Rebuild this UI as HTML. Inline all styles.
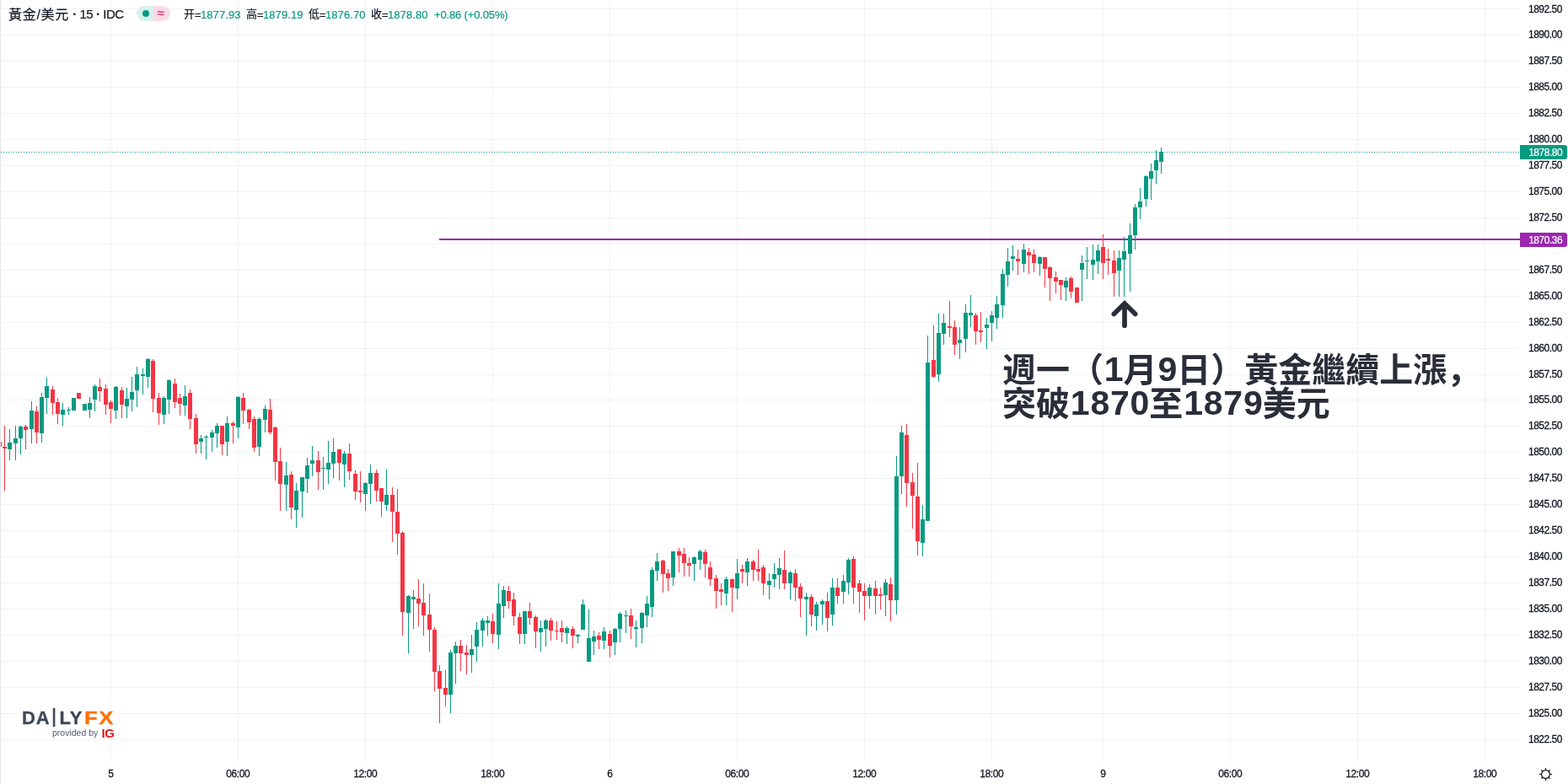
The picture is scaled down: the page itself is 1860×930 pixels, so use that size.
<!DOCTYPE html>
<html lang="zh-Hant"><head><meta charset="utf-8"><title>黃金/美元 15 IDC</title>
<style>
html,body{margin:0;padding:0;background:#fff;}
body{width:1860px;height:930px;position:relative;overflow:hidden;font-family:"Liberation Sans","Noto Sans CJK TC",sans-serif;color:#131722;}
#chart{position:absolute;left:0;top:0;}
.t{position:absolute;white-space:nowrap;line-height:1;}
.pl{font-size:12px;letter-spacing:-0.5px;left:1813px;-webkit-text-stroke-width:0.3px;}
.tl{font-size:12px;letter-spacing:-0.4px;transform:translateX(-50%);top:912px;-webkit-text-stroke-width:0.3px;}
.tag{-webkit-text-stroke-width:0.2px;position:absolute;left:1803px;width:56px;height:17px;border-radius:0 3px 3px 0;color:#fff;font-size:12px;letter-spacing:-0.5px;line-height:18px;box-sizing:border-box;padding-left:10.2px;white-space:nowrap;}
.hd{top:11px;font-size:13px;-webkit-text-stroke-width:0.2px;}
.g{color:#089981;letter-spacing:0.1px;}
.c{position:relative;top:-1px;}
.e{letter-spacing:-0.7px;}
.lg{font-size:22px;font-weight:bold;letter-spacing:0.9px;color:#3e4859;-webkit-text-stroke:0.3px currentColor;}
.d{position:relative;top:-0.4px;font-family:"Liberation Sans",sans-serif;font-size:41px;letter-spacing:0.78px;margin-left:0.8px;margin-right:-0.8px;}
.cm{font-family:"Liberation Sans","Noto Sans CJK SC",sans-serif;}
.note{left:1189px;font-family:"Liberation Sans","Noto Sans CJK SC",sans-serif;font-weight:bold;font-size:40px;color:#2a2e39;line-height:40px;}
</style></head><body>

<svg id="chart" width="1860" height="930" viewBox="0 0 1860 930" shape-rendering="crispEdges"><rect x="0" y="10" width="1803" height="1" fill="#2a2e39" fill-opacity="0.06"/>
<rect x="0" y="41" width="1803" height="1" fill="#2a2e39" fill-opacity="0.06"/>
<rect x="0" y="72" width="1803" height="1" fill="#2a2e39" fill-opacity="0.06"/>
<rect x="0" y="103" width="1803" height="1" fill="#2a2e39" fill-opacity="0.06"/>
<rect x="0" y="134" width="1803" height="1" fill="#2a2e39" fill-opacity="0.06"/>
<rect x="0" y="165" width="1803" height="1" fill="#2a2e39" fill-opacity="0.06"/>
<rect x="0" y="196" width="1803" height="1" fill="#2a2e39" fill-opacity="0.06"/>
<rect x="0" y="227" width="1803" height="1" fill="#2a2e39" fill-opacity="0.06"/>
<rect x="0" y="258" width="1803" height="1" fill="#2a2e39" fill-opacity="0.06"/>
<rect x="0" y="289" width="1803" height="1" fill="#2a2e39" fill-opacity="0.06"/>
<rect x="0" y="320" width="1803" height="1" fill="#2a2e39" fill-opacity="0.06"/>
<rect x="0" y="351" width="1803" height="1" fill="#2a2e39" fill-opacity="0.06"/>
<rect x="0" y="382" width="1803" height="1" fill="#2a2e39" fill-opacity="0.06"/>
<rect x="0" y="413" width="1803" height="1" fill="#2a2e39" fill-opacity="0.06"/>
<rect x="0" y="444" width="1803" height="1" fill="#2a2e39" fill-opacity="0.06"/>
<rect x="0" y="474" width="1803" height="1" fill="#2a2e39" fill-opacity="0.06"/>
<rect x="0" y="505" width="1803" height="1" fill="#2a2e39" fill-opacity="0.06"/>
<rect x="0" y="536" width="1803" height="1" fill="#2a2e39" fill-opacity="0.06"/>
<rect x="0" y="567" width="1803" height="1" fill="#2a2e39" fill-opacity="0.06"/>
<rect x="0" y="598" width="1803" height="1" fill="#2a2e39" fill-opacity="0.06"/>
<rect x="0" y="629" width="1803" height="1" fill="#2a2e39" fill-opacity="0.06"/>
<rect x="0" y="660" width="1803" height="1" fill="#2a2e39" fill-opacity="0.06"/>
<rect x="0" y="691" width="1803" height="1" fill="#2a2e39" fill-opacity="0.06"/>
<rect x="0" y="722" width="1803" height="1" fill="#2a2e39" fill-opacity="0.06"/>
<rect x="0" y="753" width="1803" height="1" fill="#2a2e39" fill-opacity="0.06"/>
<rect x="0" y="784" width="1803" height="1" fill="#2a2e39" fill-opacity="0.06"/>
<rect x="0" y="815" width="1803" height="1" fill="#2a2e39" fill-opacity="0.06"/>
<rect x="0" y="846" width="1803" height="1" fill="#2a2e39" fill-opacity="0.06"/>
<rect x="0" y="877" width="1803" height="1" fill="#2a2e39" fill-opacity="0.06"/>
<rect x="131" y="0" width="1" height="904" fill="#2a2e39" fill-opacity="0.06"/>
<rect x="282" y="0" width="1" height="904" fill="#2a2e39" fill-opacity="0.06"/>
<rect x="433" y="0" width="1" height="904" fill="#2a2e39" fill-opacity="0.06"/>
<rect x="584" y="0" width="1" height="904" fill="#2a2e39" fill-opacity="0.06"/>
<rect x="723" y="0" width="1" height="904" fill="#2a2e39" fill-opacity="0.06"/>
<rect x="874" y="0" width="1" height="904" fill="#2a2e39" fill-opacity="0.06"/>
<rect x="1025" y="0" width="1" height="904" fill="#2a2e39" fill-opacity="0.06"/>
<rect x="1176" y="0" width="1" height="904" fill="#2a2e39" fill-opacity="0.06"/>
<rect x="1308" y="0" width="1" height="904" fill="#2a2e39" fill-opacity="0.06"/>
<rect x="1459" y="0" width="1" height="904" fill="#2a2e39" fill-opacity="0.06"/>
<rect x="1610" y="0" width="1" height="904" fill="#2a2e39" fill-opacity="0.06"/>
<rect x="1761" y="0" width="1" height="904" fill="#2a2e39" fill-opacity="0.06"/>
<line x1="1" y1="180.5" x2="1803" y2="180.5" stroke="#089981" stroke-width="1" stroke-dasharray="1 2"/>
<rect x="521" y="283" width="1282" height="2" fill="#9c27b0"/>
<rect x="-1" y="524" width="1" height="6" fill="#f23645"/>
<rect x="5" y="505" width="1" height="77" fill="#f23645"/>
<rect x="11" y="509" width="1" height="37" fill="#089981"/>
<rect x="18" y="505" width="1" height="41" fill="#089981"/>
<rect x="24" y="505" width="1" height="34" fill="#089981"/>
<rect x="30" y="504" width="1" height="29" fill="#f23645"/>
<rect x="37" y="476" width="1" height="50" fill="#089981"/>
<rect x="43" y="482" width="1" height="44" fill="#f23645"/>
<rect x="49" y="466" width="1" height="59" fill="#089981"/>
<rect x="55" y="448" width="1" height="43" fill="#089981"/>
<rect x="62" y="458" width="1" height="34" fill="#f23645"/>
<rect x="68" y="472" width="1" height="31" fill="#f23645"/>
<rect x="74" y="478" width="1" height="27" fill="#089981"/>
<rect x="81" y="483" width="1" height="9" fill="#089981"/>
<rect x="87" y="472" width="1" height="15" fill="#089981"/>
<rect x="93" y="466" width="1" height="7" fill="#f23645"/>
<rect x="100" y="479" width="1" height="8" fill="#089981"/>
<rect x="106" y="471" width="1" height="25" fill="#089981"/>
<rect x="112" y="456" width="1" height="32" fill="#089981"/>
<rect x="118" y="449" width="1" height="27" fill="#f23645"/>
<rect x="125" y="456" width="1" height="36" fill="#f23645"/>
<rect x="131" y="475" width="1" height="27" fill="#f23645"/>
<rect x="137" y="458" width="1" height="39" fill="#089981"/>
<rect x="144" y="459" width="1" height="37" fill="#f23645"/>
<rect x="150" y="460" width="1" height="36" fill="#089981"/>
<rect x="156" y="447" width="1" height="41" fill="#089981"/>
<rect x="162" y="435" width="1" height="48" fill="#089981"/>
<rect x="169" y="437" width="1" height="31" fill="#089981"/>
<rect x="175" y="425" width="1" height="35" fill="#089981"/>
<rect x="181" y="426" width="1" height="63" fill="#f23645"/>
<rect x="188" y="466" width="1" height="38" fill="#f23645"/>
<rect x="194" y="470" width="1" height="33" fill="#089981"/>
<rect x="200" y="450" width="1" height="41" fill="#089981"/>
<rect x="207" y="449" width="1" height="35" fill="#f23645"/>
<rect x="213" y="467" width="1" height="26" fill="#f23645"/>
<rect x="219" y="457" width="1" height="36" fill="#089981"/>
<rect x="225" y="462" width="1" height="47" fill="#f23645"/>
<rect x="232" y="491" width="1" height="47" fill="#f23645"/>
<rect x="238" y="516" width="1" height="22" fill="#089981"/>
<rect x="244" y="516" width="1" height="29" fill="#089981"/>
<rect x="251" y="510" width="1" height="26" fill="#089981"/>
<rect x="257" y="502" width="1" height="29" fill="#089981"/>
<rect x="263" y="505" width="1" height="35" fill="#f23645"/>
<rect x="269" y="494" width="1" height="47" fill="#089981"/>
<rect x="276" y="500" width="1" height="26" fill="#f23645"/>
<rect x="282" y="470" width="1" height="50" fill="#089981"/>
<rect x="288" y="466" width="1" height="37" fill="#f23645"/>
<rect x="295" y="485" width="1" height="24" fill="#f23645"/>
<rect x="301" y="494" width="1" height="42" fill="#f23645"/>
<rect x="307" y="495" width="1" height="46" fill="#089981"/>
<rect x="314" y="481" width="1" height="32" fill="#089981"/>
<rect x="320" y="473" width="1" height="42" fill="#f23645"/>
<rect x="326" y="506" width="1" height="64" fill="#f23645"/>
<rect x="332" y="531" width="1" height="75" fill="#f23645"/>
<rect x="339" y="548" width="1" height="58" fill="#089981"/>
<rect x="345" y="559" width="1" height="57" fill="#f23645"/>
<rect x="351" y="573" width="1" height="53" fill="#089981"/>
<rect x="358" y="566" width="1" height="48" fill="#089981"/>
<rect x="364" y="543" width="1" height="42" fill="#089981"/>
<rect x="370" y="529" width="1" height="36" fill="#089981"/>
<rect x="377" y="535" width="1" height="46" fill="#f23645"/>
<rect x="383" y="542" width="1" height="39" fill="#089981"/>
<rect x="389" y="523" width="1" height="51" fill="#089981"/>
<rect x="395" y="520" width="1" height="47" fill="#089981"/>
<rect x="402" y="533" width="1" height="37" fill="#f23645"/>
<rect x="408" y="535" width="1" height="43" fill="#089981"/>
<rect x="414" y="526" width="1" height="43" fill="#f23645"/>
<rect x="421" y="558" width="1" height="35" fill="#f23645"/>
<rect x="427" y="559" width="1" height="37" fill="#f23645"/>
<rect x="433" y="572" width="1" height="34" fill="#089981"/>
<rect x="439" y="551" width="1" height="47" fill="#089981"/>
<rect x="446" y="557" width="1" height="38" fill="#f23645"/>
<rect x="452" y="579" width="1" height="34" fill="#f23645"/>
<rect x="458" y="557" width="1" height="49" fill="#089981"/>
<rect x="465" y="578" width="1" height="65" fill="#f23645"/>
<rect x="471" y="580" width="1" height="78" fill="#f23645"/>
<rect x="477" y="630" width="1" height="124" fill="#f23645"/>
<rect x="484" y="706" width="1" height="69" fill="#089981"/>
<rect x="490" y="700" width="1" height="46" fill="#089981"/>
<rect x="496" y="687" width="1" height="56" fill="#f23645"/>
<rect x="502" y="692" width="1" height="62" fill="#f23645"/>
<rect x="509" y="704" width="1" height="69" fill="#f23645"/>
<rect x="515" y="744" width="1" height="76" fill="#f23645"/>
<rect x="521" y="789" width="1" height="69" fill="#f23645"/>
<rect x="528" y="795" width="1" height="43" fill="#f23645"/>
<rect x="534" y="771" width="1" height="75" fill="#089981"/>
<rect x="540" y="761" width="1" height="50" fill="#089981"/>
<rect x="546" y="759" width="1" height="37" fill="#f23645"/>
<rect x="553" y="765" width="1" height="35" fill="#f23645"/>
<rect x="559" y="753" width="1" height="45" fill="#089981"/>
<rect x="565" y="738" width="1" height="47" fill="#089981"/>
<rect x="572" y="733" width="1" height="34" fill="#089981"/>
<rect x="578" y="731" width="1" height="23" fill="#089981"/>
<rect x="584" y="728" width="1" height="35" fill="#f23645"/>
<rect x="591" y="692" width="1" height="78" fill="#089981"/>
<rect x="597" y="695" width="1" height="38" fill="#089981"/>
<rect x="603" y="695" width="1" height="27" fill="#f23645"/>
<rect x="609" y="703" width="1" height="39" fill="#f23645"/>
<rect x="616" y="727" width="1" height="37" fill="#f23645"/>
<rect x="622" y="725" width="1" height="39" fill="#089981"/>
<rect x="628" y="715" width="1" height="26" fill="#f23645"/>
<rect x="635" y="730" width="1" height="39" fill="#f23645"/>
<rect x="641" y="736" width="1" height="37" fill="#089981"/>
<rect x="647" y="734" width="1" height="33" fill="#089981"/>
<rect x="653" y="733" width="1" height="27" fill="#f23645"/>
<rect x="660" y="737" width="1" height="22" fill="#f23645"/>
<rect x="666" y="736" width="1" height="26" fill="#f23645"/>
<rect x="672" y="743" width="1" height="21" fill="#089981"/>
<rect x="679" y="743" width="1" height="26" fill="#f23645"/>
<rect x="685" y="752" width="1" height="11" fill="#089981"/>
<rect x="691" y="711" width="1" height="36" fill="#089981"/>
<rect x="698" y="723" width="1" height="62" fill="#089981"/>
<rect x="704" y="748" width="1" height="29" fill="#089981"/>
<rect x="710" y="750" width="1" height="20" fill="#f23645"/>
<rect x="716" y="744" width="1" height="26" fill="#089981"/>
<rect x="723" y="748" width="1" height="32" fill="#f23645"/>
<rect x="729" y="745" width="1" height="32" fill="#089981"/>
<rect x="735" y="726" width="1" height="36" fill="#089981"/>
<rect x="742" y="724" width="1" height="27" fill="#089981"/>
<rect x="748" y="722" width="1" height="36" fill="#f23645"/>
<rect x="754" y="736" width="1" height="32" fill="#089981"/>
<rect x="761" y="726" width="1" height="37" fill="#089981"/>
<rect x="767" y="707" width="1" height="37" fill="#089981"/>
<rect x="773" y="673" width="1" height="59" fill="#089981"/>
<rect x="779" y="656" width="1" height="33" fill="#089981"/>
<rect x="786" y="664" width="1" height="39" fill="#f23645"/>
<rect x="792" y="675" width="1" height="26" fill="#f23645"/>
<rect x="798" y="654" width="1" height="41" fill="#089981"/>
<rect x="805" y="650" width="1" height="29" fill="#f23645"/>
<rect x="811" y="650" width="1" height="34" fill="#f23645"/>
<rect x="817" y="661" width="1" height="23" fill="#f23645"/>
<rect x="823" y="660" width="1" height="29" fill="#089981"/>
<rect x="830" y="652" width="1" height="24" fill="#089981"/>
<rect x="836" y="652" width="1" height="33" fill="#f23645"/>
<rect x="842" y="666" width="1" height="29" fill="#f23645"/>
<rect x="849" y="682" width="1" height="40" fill="#f23645"/>
<rect x="855" y="692" width="1" height="26" fill="#f23645"/>
<rect x="861" y="684" width="1" height="34" fill="#089981"/>
<rect x="868" y="686" width="1" height="40" fill="#f23645"/>
<rect x="874" y="663" width="1" height="48" fill="#089981"/>
<rect x="880" y="670" width="1" height="22" fill="#f23645"/>
<rect x="886" y="662" width="1" height="33" fill="#089981"/>
<rect x="893" y="664" width="1" height="25" fill="#f23645"/>
<rect x="899" y="652" width="1" height="37" fill="#f23645"/>
<rect x="905" y="670" width="1" height="36" fill="#f23645"/>
<rect x="912" y="680" width="1" height="31" fill="#089981"/>
<rect x="918" y="668" width="1" height="29" fill="#089981"/>
<rect x="924" y="662" width="1" height="37" fill="#089981"/>
<rect x="930" y="653" width="1" height="46" fill="#f23645"/>
<rect x="937" y="677" width="1" height="34" fill="#089981"/>
<rect x="943" y="675" width="1" height="38" fill="#f23645"/>
<rect x="949" y="692" width="1" height="40" fill="#f23645"/>
<rect x="956" y="703" width="1" height="51" fill="#089981"/>
<rect x="962" y="705" width="1" height="38" fill="#f23645"/>
<rect x="968" y="714" width="1" height="34" fill="#089981"/>
<rect x="975" y="711" width="1" height="30" fill="#089981"/>
<rect x="981" y="703" width="1" height="46" fill="#f23645"/>
<rect x="987" y="686" width="1" height="56" fill="#089981"/>
<rect x="993" y="686" width="1" height="30" fill="#f23645"/>
<rect x="1000" y="682" width="1" height="34" fill="#089981"/>
<rect x="1006" y="662" width="1" height="43" fill="#089981"/>
<rect x="1012" y="660" width="1" height="56" fill="#f23645"/>
<rect x="1019" y="688" width="1" height="39" fill="#f23645"/>
<rect x="1025" y="692" width="1" height="44" fill="#f23645"/>
<rect x="1031" y="693" width="1" height="29" fill="#089981"/>
<rect x="1038" y="689" width="1" height="40" fill="#f23645"/>
<rect x="1044" y="697" width="1" height="26" fill="#f23645"/>
<rect x="1050" y="687" width="1" height="44" fill="#089981"/>
<rect x="1056" y="685" width="1" height="52" fill="#f23645"/>
<rect x="1063" y="541" width="1" height="188" fill="#089981"/>
<rect x="1069" y="505" width="1" height="81" fill="#089981"/>
<rect x="1075" y="503" width="1" height="98" fill="#f23645"/>
<rect x="1082" y="561" width="1" height="66" fill="#f23645"/>
<rect x="1088" y="549" width="1" height="110" fill="#f23645"/>
<rect x="1094" y="599" width="1" height="61" fill="#089981"/>
<rect x="1100" y="398" width="1" height="220" fill="#089981"/>
<rect x="1107" y="386" width="1" height="62" fill="#f23645"/>
<rect x="1113" y="372" width="1" height="81" fill="#089981"/>
<rect x="1119" y="372" width="1" height="37" fill="#089981"/>
<rect x="1126" y="357" width="1" height="43" fill="#f23645"/>
<rect x="1132" y="380" width="1" height="41" fill="#f23645"/>
<rect x="1138" y="388" width="1" height="38" fill="#089981"/>
<rect x="1145" y="361" width="1" height="57" fill="#089981"/>
<rect x="1151" y="350" width="1" height="38" fill="#089981"/>
<rect x="1157" y="371" width="1" height="38" fill="#f23645"/>
<rect x="1163" y="370" width="1" height="36" fill="#f23645"/>
<rect x="1170" y="377" width="1" height="37" fill="#089981"/>
<rect x="1176" y="369" width="1" height="36" fill="#089981"/>
<rect x="1182" y="351" width="1" height="39" fill="#089981"/>
<rect x="1189" y="319" width="1" height="58" fill="#089981"/>
<rect x="1195" y="294" width="1" height="46" fill="#089981"/>
<rect x="1201" y="291" width="1" height="30" fill="#089981"/>
<rect x="1207" y="296" width="1" height="30" fill="#f23645"/>
<rect x="1214" y="289" width="1" height="34" fill="#089981"/>
<rect x="1220" y="294" width="1" height="31" fill="#f23645"/>
<rect x="1226" y="296" width="1" height="27" fill="#f23645"/>
<rect x="1233" y="304" width="1" height="23" fill="#089981"/>
<rect x="1239" y="305" width="1" height="36" fill="#f23645"/>
<rect x="1245" y="316" width="1" height="41" fill="#f23645"/>
<rect x="1252" y="322" width="1" height="26" fill="#f23645"/>
<rect x="1258" y="332" width="1" height="24" fill="#f23645"/>
<rect x="1264" y="329" width="1" height="28" fill="#089981"/>
<rect x="1270" y="328" width="1" height="26" fill="#f23645"/>
<rect x="1277" y="341" width="1" height="18" fill="#f23645"/>
<rect x="1283" y="303" width="1" height="54" fill="#089981"/>
<rect x="1289" y="293" width="1" height="38" fill="#089981"/>
<rect x="1296" y="290" width="1" height="42" fill="#089981"/>
<rect x="1302" y="290" width="1" height="35" fill="#089981"/>
<rect x="1308" y="278" width="1" height="53" fill="#f23645"/>
<rect x="1314" y="295" width="1" height="31" fill="#f23645"/>
<rect x="1321" y="297" width="1" height="55" fill="#f23645"/>
<rect x="1327" y="297" width="1" height="55" fill="#089981"/>
<rect x="1333" y="281" width="1" height="71" fill="#089981"/>
<rect x="1340" y="265" width="1" height="81" fill="#089981"/>
<rect x="1346" y="242" width="1" height="54" fill="#089981"/>
<rect x="1352" y="223" width="1" height="37" fill="#089981"/>
<rect x="1359" y="208" width="1" height="37" fill="#089981"/>
<rect x="1365" y="194" width="1" height="43" fill="#089981"/>
<rect x="1371" y="178" width="1" height="40" fill="#089981"/>
<rect x="1377" y="175" width="1" height="31" fill="#089981"/>
<rect x="-3" y="524" width="5" height="6" fill="#f23645"/>
<rect x="3" y="530" width="5" height="2" fill="#f23645"/>
<rect x="9" y="525" width="5" height="8" fill="#089981"/>
<rect x="16" y="520" width="5" height="6" fill="#089981"/>
<rect x="22" y="506" width="5" height="14" fill="#089981"/>
<rect x="28" y="506" width="5" height="4" fill="#f23645"/>
<rect x="35" y="487" width="5" height="22" fill="#089981"/>
<rect x="41" y="488" width="5" height="25" fill="#f23645"/>
<rect x="47" y="471" width="5" height="43" fill="#089981"/>
<rect x="53" y="458" width="5" height="14" fill="#089981"/>
<rect x="60" y="462" width="5" height="16" fill="#f23645"/>
<rect x="66" y="477" width="5" height="14" fill="#f23645"/>
<rect x="72" y="486" width="5" height="6" fill="#089981"/>
<rect x="79" y="486" width="5" height="1" fill="#089981"/>
<rect x="85" y="472" width="5" height="15" fill="#089981"/>
<rect x="91" y="466" width="5" height="7" fill="#f23645"/>
<rect x="98" y="479" width="5" height="8" fill="#089981"/>
<rect x="104" y="478" width="5" height="8" fill="#089981"/>
<rect x="110" y="458" width="5" height="16" fill="#089981"/>
<rect x="116" y="459" width="5" height="5" fill="#f23645"/>
<rect x="123" y="461" width="5" height="19" fill="#f23645"/>
<rect x="129" y="477" width="5" height="8" fill="#f23645"/>
<rect x="135" y="459" width="5" height="28" fill="#089981"/>
<rect x="142" y="463" width="5" height="17" fill="#f23645"/>
<rect x="148" y="473" width="5" height="9" fill="#089981"/>
<rect x="154" y="465" width="5" height="9" fill="#089981"/>
<rect x="160" y="444" width="5" height="19" fill="#089981"/>
<rect x="167" y="444" width="5" height="2" fill="#089981"/>
<rect x="173" y="426" width="5" height="21" fill="#089981"/>
<rect x="179" y="428" width="5" height="45" fill="#f23645"/>
<rect x="186" y="472" width="5" height="18" fill="#f23645"/>
<rect x="192" y="472" width="5" height="20" fill="#089981"/>
<rect x="198" y="451" width="5" height="23" fill="#089981"/>
<rect x="205" y="455" width="5" height="22" fill="#f23645"/>
<rect x="211" y="472" width="5" height="7" fill="#f23645"/>
<rect x="217" y="470" width="5" height="11" fill="#089981"/>
<rect x="223" y="466" width="5" height="31" fill="#f23645"/>
<rect x="230" y="496" width="5" height="31" fill="#f23645"/>
<rect x="236" y="520" width="5" height="4" fill="#089981"/>
<rect x="242" y="518" width="5" height="1" fill="#089981"/>
<rect x="249" y="513" width="5" height="6" fill="#089981"/>
<rect x="255" y="505" width="5" height="9" fill="#089981"/>
<rect x="261" y="505" width="5" height="22" fill="#f23645"/>
<rect x="267" y="502" width="5" height="22" fill="#089981"/>
<rect x="274" y="502" width="5" height="3" fill="#f23645"/>
<rect x="280" y="471" width="5" height="36" fill="#089981"/>
<rect x="286" y="472" width="5" height="15" fill="#f23645"/>
<rect x="293" y="486" width="5" height="15" fill="#f23645"/>
<rect x="299" y="497" width="5" height="34" fill="#f23645"/>
<rect x="305" y="497" width="5" height="33" fill="#089981"/>
<rect x="312" y="485" width="5" height="13" fill="#089981"/>
<rect x="318" y="486" width="5" height="27" fill="#f23645"/>
<rect x="324" y="507" width="5" height="41" fill="#f23645"/>
<rect x="330" y="547" width="5" height="27" fill="#f23645"/>
<rect x="337" y="564" width="5" height="11" fill="#089981"/>
<rect x="343" y="563" width="5" height="39" fill="#f23645"/>
<rect x="349" y="582" width="5" height="23" fill="#089981"/>
<rect x="356" y="566" width="5" height="17" fill="#089981"/>
<rect x="362" y="552" width="5" height="16" fill="#089981"/>
<rect x="368" y="546" width="5" height="4" fill="#089981"/>
<rect x="375" y="546" width="5" height="14" fill="#f23645"/>
<rect x="381" y="555" width="5" height="1" fill="#089981"/>
<rect x="387" y="549" width="5" height="8" fill="#089981"/>
<rect x="393" y="536" width="5" height="14" fill="#089981"/>
<rect x="400" y="533" width="5" height="16" fill="#f23645"/>
<rect x="406" y="538" width="5" height="13" fill="#089981"/>
<rect x="412" y="538" width="5" height="21" fill="#f23645"/>
<rect x="419" y="562" width="5" height="21" fill="#f23645"/>
<rect x="425" y="582" width="5" height="2" fill="#f23645"/>
<rect x="431" y="573" width="5" height="13" fill="#089981"/>
<rect x="437" y="561" width="5" height="13" fill="#089981"/>
<rect x="444" y="561" width="5" height="21" fill="#f23645"/>
<rect x="450" y="579" width="5" height="16" fill="#f23645"/>
<rect x="456" y="587" width="5" height="12" fill="#089981"/>
<rect x="463" y="587" width="5" height="20" fill="#f23645"/>
<rect x="469" y="607" width="5" height="26" fill="#f23645"/>
<rect x="475" y="632" width="5" height="94" fill="#f23645"/>
<rect x="482" y="707" width="5" height="20" fill="#089981"/>
<rect x="488" y="708" width="5" height="3" fill="#089981"/>
<rect x="494" y="710" width="5" height="6" fill="#f23645"/>
<rect x="500" y="715" width="5" height="15" fill="#f23645"/>
<rect x="507" y="729" width="5" height="18" fill="#f23645"/>
<rect x="513" y="747" width="5" height="50" fill="#f23645"/>
<rect x="519" y="796" width="5" height="21" fill="#f23645"/>
<rect x="526" y="816" width="5" height="8" fill="#f23645"/>
<rect x="532" y="774" width="5" height="50" fill="#089981"/>
<rect x="538" y="766" width="5" height="9" fill="#089981"/>
<rect x="544" y="766" width="5" height="9" fill="#f23645"/>
<rect x="551" y="774" width="5" height="3" fill="#f23645"/>
<rect x="557" y="770" width="5" height="7" fill="#089981"/>
<rect x="563" y="747" width="5" height="20" fill="#089981"/>
<rect x="570" y="736" width="5" height="12" fill="#089981"/>
<rect x="576" y="736" width="5" height="3" fill="#089981"/>
<rect x="582" y="737" width="5" height="15" fill="#f23645"/>
<rect x="589" y="716" width="5" height="37" fill="#089981"/>
<rect x="595" y="700" width="5" height="19" fill="#089981"/>
<rect x="601" y="701" width="5" height="12" fill="#f23645"/>
<rect x="607" y="711" width="5" height="20" fill="#f23645"/>
<rect x="614" y="732" width="5" height="20" fill="#f23645"/>
<rect x="620" y="725" width="5" height="27" fill="#089981"/>
<rect x="626" y="725" width="5" height="8" fill="#f23645"/>
<rect x="633" y="732" width="5" height="17" fill="#f23645"/>
<rect x="639" y="745" width="5" height="5" fill="#089981"/>
<rect x="645" y="736" width="5" height="10" fill="#089981"/>
<rect x="651" y="736" width="5" height="12" fill="#f23645"/>
<rect x="658" y="748" width="5" height="1" fill="#f23645"/>
<rect x="664" y="745" width="5" height="5" fill="#f23645"/>
<rect x="670" y="745" width="5" height="6" fill="#089981"/>
<rect x="677" y="746" width="5" height="8" fill="#f23645"/>
<rect x="683" y="753" width="5" height="2" fill="#089981"/>
<rect x="689" y="717" width="5" height="30" fill="#089981"/>
<rect x="696" y="757" width="5" height="28" fill="#089981"/>
<rect x="702" y="755" width="5" height="6" fill="#089981"/>
<rect x="708" y="754" width="5" height="5" fill="#f23645"/>
<rect x="714" y="749" width="5" height="11" fill="#089981"/>
<rect x="721" y="752" width="5" height="14" fill="#f23645"/>
<rect x="727" y="746" width="5" height="16" fill="#089981"/>
<rect x="733" y="728" width="5" height="18" fill="#089981"/>
<rect x="740" y="730" width="5" height="1" fill="#089981"/>
<rect x="746" y="730" width="5" height="13" fill="#f23645"/>
<rect x="752" y="744" width="5" height="2" fill="#089981"/>
<rect x="759" y="727" width="5" height="18" fill="#089981"/>
<rect x="765" y="716" width="5" height="14" fill="#089981"/>
<rect x="771" y="676" width="5" height="44" fill="#089981"/>
<rect x="777" y="666" width="5" height="11" fill="#089981"/>
<rect x="784" y="665" width="5" height="16" fill="#f23645"/>
<rect x="790" y="680" width="5" height="6" fill="#f23645"/>
<rect x="796" y="654" width="5" height="31" fill="#089981"/>
<rect x="803" y="654" width="5" height="5" fill="#f23645"/>
<rect x="809" y="657" width="5" height="11" fill="#f23645"/>
<rect x="815" y="668" width="5" height="3" fill="#f23645"/>
<rect x="821" y="661" width="5" height="8" fill="#089981"/>
<rect x="828" y="654" width="5" height="10" fill="#089981"/>
<rect x="834" y="655" width="5" height="14" fill="#f23645"/>
<rect x="840" y="673" width="5" height="14" fill="#f23645"/>
<rect x="847" y="686" width="5" height="15" fill="#f23645"/>
<rect x="853" y="699" width="5" height="3" fill="#f23645"/>
<rect x="859" y="687" width="5" height="17" fill="#089981"/>
<rect x="866" y="687" width="5" height="10" fill="#f23645"/>
<rect x="872" y="680" width="5" height="18" fill="#089981"/>
<rect x="878" y="675" width="5" height="3" fill="#f23645"/>
<rect x="884" y="666" width="5" height="13" fill="#089981"/>
<rect x="891" y="666" width="5" height="10" fill="#f23645"/>
<rect x="897" y="675" width="5" height="3" fill="#f23645"/>
<rect x="903" y="673" width="5" height="19" fill="#f23645"/>
<rect x="910" y="689" width="5" height="5" fill="#089981"/>
<rect x="916" y="681" width="5" height="6" fill="#089981"/>
<rect x="922" y="674" width="5" height="8" fill="#089981"/>
<rect x="928" y="676" width="5" height="16" fill="#f23645"/>
<rect x="935" y="679" width="5" height="13" fill="#089981"/>
<rect x="941" y="680" width="5" height="17" fill="#f23645"/>
<rect x="947" y="696" width="5" height="14" fill="#f23645"/>
<rect x="954" y="708" width="5" height="3" fill="#089981"/>
<rect x="960" y="708" width="5" height="21" fill="#f23645"/>
<rect x="966" y="717" width="5" height="14" fill="#089981"/>
<rect x="973" y="713" width="5" height="4" fill="#089981"/>
<rect x="979" y="713" width="5" height="20" fill="#f23645"/>
<rect x="985" y="697" width="5" height="32" fill="#089981"/>
<rect x="991" y="697" width="5" height="10" fill="#f23645"/>
<rect x="998" y="689" width="5" height="13" fill="#089981"/>
<rect x="1004" y="664" width="5" height="27" fill="#089981"/>
<rect x="1010" y="663" width="5" height="34" fill="#f23645"/>
<rect x="1017" y="692" width="5" height="10" fill="#f23645"/>
<rect x="1023" y="701" width="5" height="6" fill="#f23645"/>
<rect x="1029" y="697" width="5" height="10" fill="#089981"/>
<rect x="1036" y="698" width="5" height="9" fill="#f23645"/>
<rect x="1042" y="705" width="5" height="2" fill="#f23645"/>
<rect x="1048" y="691" width="5" height="15" fill="#089981"/>
<rect x="1054" y="693" width="5" height="19" fill="#f23645"/>
<rect x="1061" y="565" width="5" height="147" fill="#089981"/>
<rect x="1067" y="513" width="5" height="52" fill="#089981"/>
<rect x="1073" y="516" width="5" height="57" fill="#f23645"/>
<rect x="1080" y="572" width="5" height="16" fill="#f23645"/>
<rect x="1086" y="589" width="5" height="53" fill="#f23645"/>
<rect x="1092" y="616" width="5" height="28" fill="#089981"/>
<rect x="1098" y="430" width="5" height="188" fill="#089981"/>
<rect x="1105" y="427" width="5" height="20" fill="#f23645"/>
<rect x="1111" y="395" width="5" height="49" fill="#089981"/>
<rect x="1117" y="383" width="5" height="13" fill="#089981"/>
<rect x="1124" y="387" width="5" height="2" fill="#f23645"/>
<rect x="1130" y="388" width="5" height="21" fill="#f23645"/>
<rect x="1136" y="403" width="5" height="4" fill="#089981"/>
<rect x="1143" y="371" width="5" height="31" fill="#089981"/>
<rect x="1149" y="371" width="5" height="3" fill="#089981"/>
<rect x="1155" y="374" width="5" height="19" fill="#f23645"/>
<rect x="1161" y="392" width="5" height="2" fill="#f23645"/>
<rect x="1168" y="385" width="5" height="4" fill="#089981"/>
<rect x="1174" y="374" width="5" height="9" fill="#089981"/>
<rect x="1180" y="361" width="5" height="16" fill="#089981"/>
<rect x="1187" y="325" width="5" height="37" fill="#089981"/>
<rect x="1193" y="310" width="5" height="16" fill="#089981"/>
<rect x="1199" y="304" width="5" height="3" fill="#089981"/>
<rect x="1205" y="307" width="5" height="3" fill="#f23645"/>
<rect x="1212" y="296" width="5" height="17" fill="#089981"/>
<rect x="1218" y="299" width="5" height="4" fill="#f23645"/>
<rect x="1224" y="302" width="5" height="10" fill="#f23645"/>
<rect x="1231" y="305" width="5" height="8" fill="#089981"/>
<rect x="1237" y="305" width="5" height="14" fill="#f23645"/>
<rect x="1243" y="317" width="5" height="13" fill="#f23645"/>
<rect x="1250" y="329" width="5" height="5" fill="#f23645"/>
<rect x="1256" y="332" width="5" height="6" fill="#f23645"/>
<rect x="1262" y="333" width="5" height="8" fill="#089981"/>
<rect x="1268" y="330" width="5" height="16" fill="#f23645"/>
<rect x="1275" y="341" width="5" height="18" fill="#f23645"/>
<rect x="1281" y="312" width="5" height="8" fill="#089981"/>
<rect x="1287" y="309" width="5" height="1" fill="#089981"/>
<rect x="1294" y="308" width="5" height="6" fill="#089981"/>
<rect x="1300" y="297" width="5" height="13" fill="#089981"/>
<rect x="1306" y="293" width="5" height="19" fill="#f23645"/>
<rect x="1312" y="307" width="5" height="2" fill="#f23645"/>
<rect x="1319" y="309" width="5" height="15" fill="#f23645"/>
<rect x="1325" y="306" width="5" height="15" fill="#089981"/>
<rect x="1331" y="298" width="5" height="10" fill="#089981"/>
<rect x="1338" y="279" width="5" height="22" fill="#089981"/>
<rect x="1344" y="246" width="5" height="33" fill="#089981"/>
<rect x="1350" y="239" width="5" height="7" fill="#089981"/>
<rect x="1357" y="209" width="5" height="27" fill="#089981"/>
<rect x="1363" y="203" width="5" height="9" fill="#089981"/>
<rect x="1369" y="190" width="5" height="12" fill="#089981"/>
<rect x="1375" y="180" width="5" height="12" fill="#089981"/>
<rect x="0" y="0" width="1" height="930" fill="#e0e3eb"/><rect x="1" y="0" width="2" height="1" fill="#e0e3eb" fill-opacity="0.7"/><g shape-rendering="geometricPrecision"><g fill="none" stroke="#2a2e39" stroke-width="5.7" stroke-linecap="round" stroke-linejoin="miter"><path d="M1334 386.2 V361"/><path d="M1321.3 372.6 L1334 360 L1346.7 372.6"/></g><g stroke="#131722" stroke-width="1.2" fill="none"><circle cx="1833.5" cy="918.5" r="4.9"/><line x1="1838.40" y1="918.50" x2="1841.00" y2="918.50"/><line x1="1836.96" y1="921.96" x2="1838.66" y2="923.66"/><line x1="1833.50" y1="923.40" x2="1833.50" y2="926.00"/><line x1="1830.04" y1="921.96" x2="1828.34" y2="923.66"/><line x1="1828.60" y1="918.50" x2="1826.00" y2="918.50"/><line x1="1830.04" y1="915.04" x2="1828.34" y2="913.34"/><line x1="1833.50" y1="913.60" x2="1833.50" y2="911.00"/><line x1="1836.96" y1="915.04" x2="1838.66" y2="913.34"/></g></g></svg>

<div class="t pl" style="top:5px">1892.50</div>
<div class="t pl" style="top:35px">1890.00</div>
<div class="t pl" style="top:66px">1887.50</div>
<div class="t pl" style="top:97px">1885.00</div>
<div class="t pl" style="top:128px">1882.50</div>
<div class="t pl" style="top:159px">1880.00</div>
<div class="t pl" style="top:190px">1877.50</div>
<div class="t pl" style="top:221px">1875.00</div>
<div class="t pl" style="top:252px">1872.50</div>
<div class="t pl" style="top:314px">1867.50</div>
<div class="t pl" style="top:345px">1865.00</div>
<div class="t pl" style="top:376px">1862.50</div>
<div class="t pl" style="top:407px">1860.00</div>
<div class="t pl" style="top:438px">1857.50</div>
<div class="t pl" style="top:468px">1855.00</div>
<div class="t pl" style="top:499px">1852.50</div>
<div class="t pl" style="top:530px">1850.00</div>
<div class="t pl" style="top:561px">1847.50</div>
<div class="t pl" style="top:592px">1845.00</div>
<div class="t pl" style="top:623px">1842.50</div>
<div class="t pl" style="top:654px">1840.00</div>
<div class="t pl" style="top:685px">1837.50</div>
<div class="t pl" style="top:716px">1835.00</div>
<div class="t pl" style="top:747px">1832.50</div>
<div class="t pl" style="top:778px">1830.00</div>
<div class="t pl" style="top:809px">1827.50</div>
<div class="t pl" style="top:840px">1825.00</div>
<div class="t pl" style="top:871px">1822.50</div>
<div class="t tl" style="left:131.3px">5</div>
<div class="t tl" style="left:282.3px">06:00</div>
<div class="t tl" style="left:433.3px">12:00</div>
<div class="t tl" style="left:584.3px">18:00</div>
<div class="t tl" style="left:723.3px">6</div>
<div class="t tl" style="left:874.3px">06:00</div>
<div class="t tl" style="left:1025.3px">12:00</div>
<div class="t tl" style="left:1176.3px">18:00</div>
<div class="t tl" style="left:1308.3px">9</div>
<div class="t tl" style="left:1459.3px">06:00</div>
<div class="t tl" style="left:1610.3px">12:00</div>
<div class="t tl" style="left:1761.3px">18:00</div>
<div class="tag" style="top:172px;background:#089981">1878.80</div>
<div class="tag" style="top:276px;background:#9c27b0">1870.36</div>
<div class="t" id="title" style="left:10px;top:10px;font-size:16px;-webkit-text-stroke-width:0.2px;"><span style="letter-spacing:0.7px">黃金/美元</span><span id="tl2" style="position:relative;top:-1.5px;left:0.5px;font-size:15px;letter-spacing:-0.45px"> <b>·</b> 15 <b>·</b> IDC</span></div>
<div style="position:absolute;left:162px;top:7px;width:40px;height:18px;border-radius:9px;overflow:hidden;"><div style="position:absolute;left:0;top:0;width:20px;height:18px;background:#daf0ec"></div><div style="position:absolute;left:20px;top:0;width:20px;height:18px;background:#fcdbe6"></div><div style="position:absolute;left:7px;top:5px;width:8px;height:8px;border-radius:50%;background:#089981"></div><div class="t" style="left:24.4px;top:0.5px;font-size:16px;color:#cc1257;">≈</div></div>
<div class="t hd" id="o1" style="left:218px"><span class="c">开</span><span class="e">=</span><span class="g">1877.93</span></div>
<div class="t hd" id="o2" style="left:292px"><span class="c">高</span><span class="e">=</span><span class="g">1879.19</span></div>
<div class="t hd" id="o3" style="left:366px"><span class="c">低</span><span class="e">=</span><span class="g">1876.70</span></div>
<div class="t hd" id="o4" style="left:440px"><span class="c">收</span><span class="e">=</span><span class="g">1878.80</span></div>
<div class="t hd g" id="o5" style="left:515px;letter-spacing:-0.15px">+0.86 (+0.05%)</div>
<div class="t note" id="n1" lang="zh-Hans" style="top:418.6px">週一（<span class="d">1</span>月<span class="d">9</span>日）黃金繼續上漲<span class="cm" lang="zh-Hans">，</span></div>
<div class="t note" id="n2" lang="zh-Hans" style="top:458.6px">突破<span class="d">1870</span>至<span class="d">1879</span>美元</div>
<div class="t lg" id="lg1" style="left:26px;top:840.5px;">DA</div>
<div class="t lg" id="lgi" style="left:61.2px;top:840.9px;font-weight:normal;letter-spacing:0;-webkit-text-stroke:0;transform:scale(1.25,1.4);transform-origin:50% 50%;">I</div>
<div class="t lg" id="lg1b" style="left:70.5px;top:840.5px;">LY</div>
<div class="t lg" id="lgfx" style="left:100px;top:840.5px;color:#ff7200;letter-spacing:1.2px;transform:scaleX(1.17);transform-origin:0 50%;">FX</div>
<div class="t" id="lg2" style="left:62px;top:864px;font-size:10.5px;color:#555e6e;">provided by</div>
<div class="t" id="lg3" style="left:120.5px;top:862px;font-size:15px;font-weight:bold;color:#e0141c;letter-spacing:-0.5px;">IG</div>
</body></html>
